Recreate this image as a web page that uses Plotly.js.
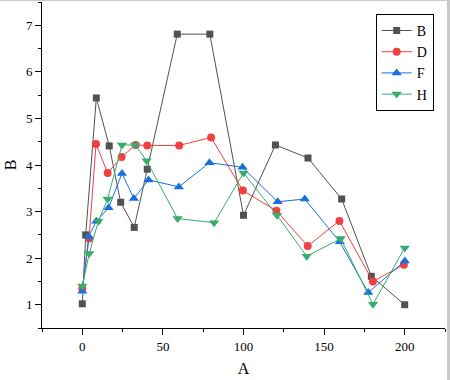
<!DOCTYPE html>
<html>
<head>
<meta charset="utf-8">
<script src="https://cdn.plot.ly/plotly-3.0.1.min.js"></script>
<style>
html,body{margin:0;padding:0;background:#fff;}
#wrap{position:relative;width:450px;height:380px;overflow:hidden;}
#chart{width:450px;height:380px;}
#edgeR{position:absolute;right:0;top:0;width:3px;height:380px;background:#c8c8c8;}
#edgeT{position:absolute;left:0;top:0;width:450px;height:1px;background:#c8c8c8;}
</style>
</head>
<body>
<div id="wrap"><div id="chart"></div><div id="edgeR"></div><div id="edgeT"></div></div>
<script>
// Series B
const xB = [0, 2.1, 8.7, 16.7, 23.8, 32.2, 40.3, 58.9, 79.1, 100, 119.8, 140, 160.9, 179.3, 200];
const yB = [1.02, 2.50, 5.44, 4.41, 3.20, 2.66, 3.91, 6.81, 6.81, 2.92, 4.43, 4.15, 3.27, 1.61, 1.00];
// Series D
const xD = [0, 4.2, 8.5, 15.7, 24.4, 33.0, 40.3, 60.1, 79.9, 99.6, 120.4, 139.8, 159.5, 180.3, 199.5];
const yD = [1.35, 2.42, 4.45, 3.83, 4.17, 4.43, 4.42, 4.42, 4.59, 3.45, 3.02, 2.26, 2.80, 1.50, 1.86];
// Series F
const xF = [0, 3.9, 8.7, 16.3, 24.6, 32.0, 41.1, 59.9, 78.9, 99.4, 121.2, 138.0, 159.7, 177.4, 200.1];
const yF = [1.29, 2.46, 2.79, 3.08, 3.82, 3.28, 3.68, 3.53, 4.05, 3.95, 3.21, 3.27, 2.35, 1.26, 1.94];
// Series H
const xH = [0, 4.3, 9.9, 15.7, 24.6, 32.8, 39.9, 59.1, 81.8, 100, 120.8, 139.2, 160.3, 180.3, 200];
const yH = [1.40, 2.10, 2.79, 3.27, 4.43, 4.43, 4.09, 2.85, 2.76, 3.83, 2.92, 2.04, 2.42, 1.01, 2.22];

const names = ['B', 'D', 'F', 'H'];
const colors = ['#515151', '#F14040', '#1A6FDF', '#37AD6B'];
const symbols = ['square', 'circle', 'triangle-up', 'triangle-down'];
const sizes = [7, 8, 9, 9];
const xs = [xB, xD, xF, xH];
const ys = [yB, yD, yF, yH];

const traces = names.map((n, i) => ({
  type: 'scatter', mode: 'lines+markers', name: n,
  x: xs[i], y: ys[i],
  line: {color: colors[i], width: 1},
  marker: {color: colors[i], symbol: symbols[i], size: sizes[i], line: {width: 0}}
}));

const fontFam = 'Liberation Serif, Times New Roman, serif';
const layout = {
  width: 450, height: 380,
  margin: {l: 42, r: 4.5, t: 2.4, b: 51.5},
  paper_bgcolor: '#fff', plot_bgcolor: '#fff',
  font: {family: fontFam, color: '#000', size: 13},
  showlegend: true,
  legend: {x: 0.828, y: 0.9635, xanchor: 'left', yanchor: 'top',
    bordercolor: '#000', borderwidth: 1, bgcolor: '#fff',
    font: {family: fontFam, size: 14, color: '#000'}, tracegroupgap: 0},
  xaxis: {
    range: [-25, 225], dtick: 50, tick0: 0, showgrid: false, zeroline: false,
    showline: true, linecolor: '#000', linewidth: 1,
    ticks: 'outside', ticklen: 6, tickcolor: '#000', tickwidth: 1,
    minor: {dtick: 25, tick0: 0, ticks: 'outside', ticklen: 3, tickcolor: '#000', showgrid: false},
    tickfont: {family: fontFam, size: 13},
    title: {text: 'A', font: {family: fontFam, size: 16}, standoff: 10}
  },
  yaxis: {
    range: [0.5, 7.5], dtick: 1, tick0: 0, showgrid: false, zeroline: false,
    showline: true, linecolor: '#000', linewidth: 1,
    ticks: 'outside', ticklen: 6, tickcolor: '#000', tickwidth: 1,
    minor: {dtick: 0.5, tick0: 0, ticks: 'outside', ticklen: 3, tickcolor: '#000', showgrid: false},
    tickfont: {family: fontFam, size: 13},
    title: {text: 'B', font: {family: fontFam, size: 16}, standoff: 5}
  }
};
Plotly.newPlot('chart', traces, layout, {displayModeBar: false, staticPlot: true});
</script>
</body>
</html>
